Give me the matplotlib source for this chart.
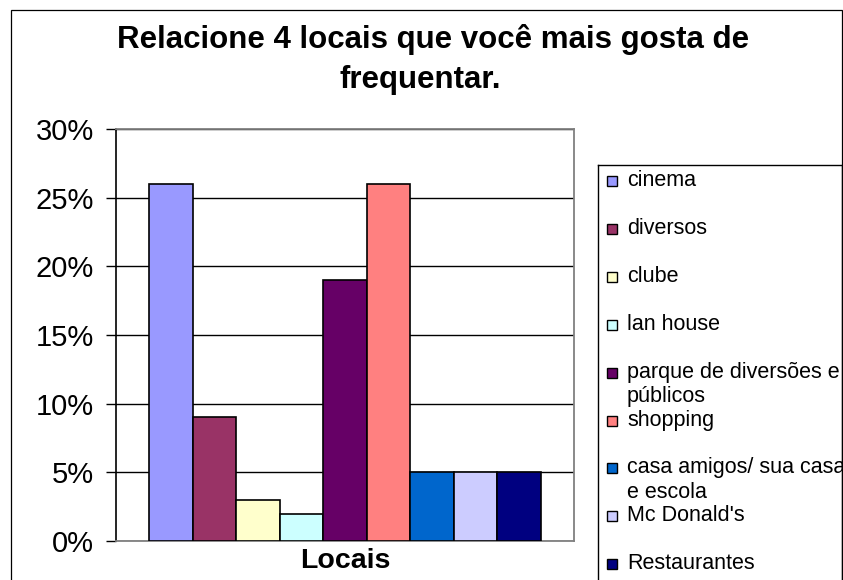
import matplotlib
matplotlib.use("Agg")
import matplotlib.pyplot as plt
from matplotlib.patches import Rectangle

plt.rcParams['font.family'] = ['Liberation Sans', 'DejaVu Sans']

locais = ["cinema", "diversos", "clube", "lan house",
          "parque de diversões e\npúblicos", "shopping",
          "casa amigos/ sua casa\ne escola", "Mc Donald's", "Restaurantes"]
valores = [0.26, 0.09, 0.03, 0.02, 0.19, 0.26, 0.05, 0.05, 0.05]
cores = ["#9999FF", "#993366", "#FFFFCC", "#CCFFFF", "#660066",
         "#FF8080", "#0066CC", "#CCCCFF", "#000080"]
y_ticks = [0, 0.05, 0.10, 0.15, 0.20, 0.25, 0.30]
y_labels = ["0%", "5%", "10%", "15%", "20%", "25%", "30%"]
titulo = ["Relacione 4 locais que você mais gosta de", "frequentar."]

W, H = 843, 580
fig = plt.figure(figsize=(W / 100, H / 100), dpi=100)

# outer chart frame
fig.patches.append(Rectangle((11 / W, -0.02), (842 - 11) / W, 1 - 10 / H + 0.02,
                             transform=fig.transFigure, fill=False,
                             edgecolor="black", linewidth=0.9))

ax = fig.add_axes([116 / W, (H - 541) / H, (574 - 116) / W, (541 - 129) / H])
x = list(range(len(valores)))
ax.bar(x, valores, width=1.0, color=cores, edgecolor="black", linewidth=1.2, zorder=3)
ax.set_xlim(-1.258, len(valores) - 1 + 1.258)
ax.set_ylim(0, 0.30)
ax.set_yticks(y_ticks)
ax.set_yticklabels(y_labels, fontsize=21)
ax.set_xticks([])
ax.tick_params(axis="y", direction="out", length=7, width=1, pad=9, colors="black")
ax.set_axisbelow(True)
ax.yaxis.grid(True, color="black", linewidth=1)
for s in ["top", "right", "bottom"]:
    ax.spines[s].set_color("#808080")
    ax.spines[s].set_linewidth(1.3)
ax.spines["left"].set_color("black")
ax.spines["left"].set_linewidth(1.2)
ax.set_xlabel("Locais", fontsize=20.5, fontweight="bold", labelpad=5)

# title, two centred lines
fig.text(433 / W, 1 - 48 / H, titulo[0], ha="center", va="baseline",
         fontsize=22.5, fontweight="bold")
fig.text(420 / W, 1 - 88 / H, titulo[1], ha="center", va="baseline",
         fontsize=22.5, fontweight="bold")

# legend box
lx0, ly0 = 598, 165
lw_px, lh_px = 842 - lx0, H + 10 - ly0
lax = fig.add_axes([lx0 / W, (H - ly0 - lh_px) / H, lw_px / W, lh_px / H])
lax.set_xlim(0, lw_px)
lax.set_ylim(lh_px, 0)
lax.set_xticks([])
lax.set_yticks([])
for s in lax.spines.values():
    s.set_color("black")
    s.set_linewidth(1)
step = 47.9
for i, (nome, cor) in enumerate(zip(locais, cores)):
    yc = 16 + i * step
    lax.add_patch(Rectangle((9, yc - 5), 10, 10, facecolor=cor,
                            edgecolor="black", linewidth=1))
    lax.text(29, yc - 11, nome, ha="left", va="top", fontsize=15.5,
             linespacing=1.2, clip_on=True)

fig.savefig("out.png", dpi=100)
